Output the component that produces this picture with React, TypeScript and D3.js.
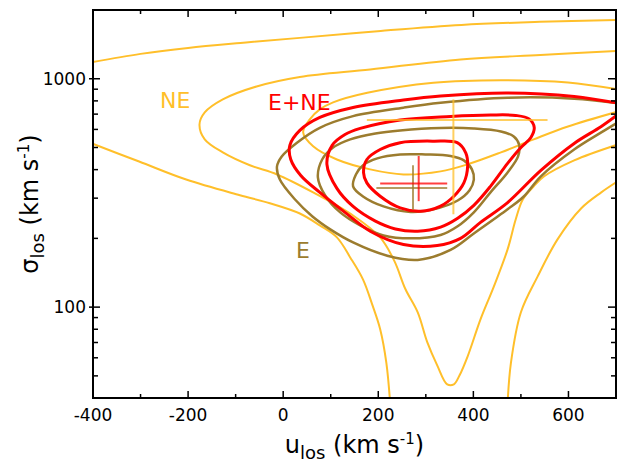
import React from 'react';
import * as d3 from 'd3';

type P = [number, number];

// ---- axes ----
const xTickValues = [-400, -200, 0, 200, 400, 600];
const xMinorTicks = [-300, -100, 100, 300, 500];
const yTickValues = [100, 1000];
const yMinorTicks = [50, 60, 70, 80, 90, 200, 300, 400, 500, 600, 700, 800, 900];

// ---- NE (orange) contours: [u_los, sigma_los] ----
const neOuterTop: P[] = [[-405, 1180], [-300, 1285], [-200, 1365], [-90, 1435], [35, 1510], [205, 1620], [375, 1720], [540, 1775], [705, 1810]];
const neOuterLeft: P[] = [[-405, 523], [-303, 434], [-204, 362], [-91, 309], [-28, 285], [35, 257], [77, 228], [113, 202], [141, 165], [168, 132], [187, 103], [204, 80], [217, 57], [225, 38]];
const neOuterRight: P[] = [[472, 38], [479, 57], [500, 95], [535, 136], [577, 198], [627, 271], [669, 318], [705, 357]];
const neMiddle: P[] = [[705, 1323], [541, 1271], [373, 1215], [183, 1098], [35, 1018], [-56, 925], [-127, 812], [-165, 712], [-176, 631], [-165, 543], [-127, 476], [-70, 418], [-13, 381], [63, 318], [147, 252], [204, 202], [234, 159], [257, 120], [283, 94.8], [303, 70.2], [324, 55.6], [345, 45.9], [359, 45.9], [371, 50.3], [388, 60.9], [415, 88.4], [443, 123], [472, 179], [489, 242], [504, 296], [527, 338], [549, 374], [612, 439], [705, 516]];
const neInner: P[] = [[705, 898], [599, 963], [458, 986], [316, 961], [177, 868], [105, 788], [77, 734], [56, 664], [42, 582], [63, 506], [113, 443], [183, 401], [253, 381], [331, 393], [388, 422], [458, 476], [527, 543], [599, 618], [705, 719]];

// ---- E+NE (red) contours ----
const eneOuter: P[] = [[707, 780], [612, 837], [472, 867], [331, 841], [253, 808], [147, 749], [77, 677], [35, 594], [14, 511], [16, 443], [37, 377], [77, 318], [130, 260], [183, 215], [253, 188], [324, 186], [373, 200], [415, 235], [472, 287], [542, 397], [612, 521], [669, 618], [707, 705]];
const eneMiddle: P[] = [[92, 422], [103, 511], [130, 570], [162, 606], [246, 660], [352, 684], [436, 694], [489, 691], [517, 667], [528, 612], [521, 553], [500, 500], [472, 426], [436, 338], [401, 279], [367, 245], [331, 224], [283, 215], [236, 220], [194, 238], [147, 276], [113, 331]];
const eneInner: P[] = [[169, 388], [176, 443], [204, 490], [246, 525], [317, 533], [366, 525], [384, 474], [388, 415], [380, 350], [359, 306], [331, 277], [289, 263], [246, 272], [204, 306], [176, 350]];

// ---- E (brown) contours ----
const eOuter: P[] = [[707, 780], [612, 818], [472, 826], [331, 785], [253, 747], [147, 686], [77, 610], [29, 525], [-3, 457], [-13, 413], [-7, 362], [25, 296], [61, 250], [99, 219], [147, 192], [219, 168], [283, 161], [352, 178], [401, 210], [472, 268], [506, 305], [542, 374], [612, 490], [669, 582], [707, 650]];
const eMiddle: P[] = [[73, 370], [82, 443], [105, 500], [141, 543], [194, 576], [246, 594], [331, 609], [401, 606], [458, 588], [485, 559], [496, 516], [494, 457], [472, 389], [436, 318], [401, 260], [367, 226], [331, 207], [268, 200], [211, 206], [162, 228], [120, 260], [88, 309]];
const eInner: P[] = [[147, 338], [153, 381], [168, 418], [198, 448], [246, 466], [299, 466], [352, 459], [380, 439], [397, 401], [401, 362], [392, 325], [367, 293], [316, 268], [268, 261], [211, 276], [168, 305]];

// ---- best-fit crosses: [u, sigma, uLo, uHi, sigmaLo, sigmaHi] ----
const crossNE = [358, 659, 176, 556, 255, 812];
const crossENE = [285, 348, 204, 345, 291, 459];
const crossE = [273, 332, 196, 345, 267, 418];

const ORANGE = '#FFBF2A';
const RED = '#FF0000';
const BROWN = '#9C7C2E';

const W = 627, H = 462;
const L = 93, R = 616, T = 10, B = 398;
const FONT = 'DejaVu Sans, sans-serif';

export default function App() {
  const x = d3.scaleLinear().domain([-400, 700]).range([L, R]);
  const y = d3.scaleLog().domain([40, 2000]).range([B, T]);
  const open = d3.line<P>().x(d => x(d[0])).y(d => y(d[1])).curve(d3.curveCatmullRom.alpha(0.5));
  const closed = d3.line<P>().x(d => x(d[0])).y(d => y(d[1])).curve(d3.curveCatmullRomClosed.alpha(0.5));

  const cross = (c: number[], color: string, key: string) => (
    <g key={key} stroke={color} strokeWidth={2} strokeOpacity={0.75}>
      <line x1={x(c[2])} x2={x(c[3])} y1={y(c[1])} y2={y(c[1])} />
      <line x1={x(c[0])} x2={x(c[0])} y1={y(c[4])} y2={y(c[5])} />
    </g>
  );

  return (
    <svg width={W} height={H} style={{ position: 'absolute', left: 0, top: 0, display: 'block', background: '#fff' }} fontFamily={FONT}>
      <defs>
        <clipPath id="plot"><rect x={L} y={T} width={R - L} height={B - T} /></clipPath>
      </defs>
      <g clipPath="url(#plot)" fill="none">
        <g stroke={ORANGE} strokeWidth={2}>
          <path d={open(neOuterTop) || ''} />
          <path d={open(neOuterLeft) || ''} />
          <path d={open(neOuterRight) || ''} />
          <path d={open(neMiddle) || ''} />
          <path d={open(neInner) || ''} />
        </g>
        <g stroke={BROWN} strokeWidth={2.5}>
          <path d={open(eOuter) || ''} />
          <path d={closed(eMiddle) || ''} />
          <path d={closed(eInner) || ''} />
        </g>
        <g stroke={RED} strokeWidth={3}>
          <path d={open(eneOuter) || ''} />
          <path d={closed(eneMiddle) || ''} />
          <path d={closed(eneInner) || ''} />
        </g>
        {cross(crossNE, ORANGE, 'ne')}
        {cross(crossE, BROWN, 'e')}
        {cross(crossENE, RED, 'ene')}
      </g>

      {/* frame */}
      <rect x={L} y={T} width={R - L} height={B - T} fill="none" stroke="#000" strokeWidth={2} />

      {/* ticks */}
      <g stroke="#000" strokeWidth={1.5}>
        {xTickValues.map(v => (
          <g key={'xt' + v}>
            <line x1={x(v)} x2={x(v)} y1={B} y2={B - 7} />
            <line x1={x(v)} x2={x(v)} y1={T} y2={T + 7} />
          </g>
        ))}
        {xMinorTicks.map(v => (
          <g key={'xm' + v}>
            <line x1={x(v)} x2={x(v)} y1={B} y2={B - 4} />
            <line x1={x(v)} x2={x(v)} y1={T} y2={T + 4} />
          </g>
        ))}
        {yTickValues.map(v => (
          <g key={'yt' + v}>
            <line x1={L - 4} x2={L + 7} y1={y(v)} y2={y(v)} />
            <line x1={R} x2={R - 8} y1={y(v)} y2={y(v)} />
          </g>
        ))}
        {yMinorTicks.map(v => (
          <g key={'ym' + v}>
            <line x1={L} x2={L + 5} y1={y(v)} y2={y(v)} />
            <line x1={R} x2={R - 5} y1={y(v)} y2={y(v)} />
          </g>
        ))}
      </g>

      {/* tick labels */}
      <g fontSize={17} fill="#000">
        {xTickValues.map(v => (
          <text key={'xl' + v} x={x(v)} y={B + 23} textAnchor="middle">{String(v)}</text>
        ))}
        {yTickValues.map(v => (
          <text key={'yl' + v} x={L - 7} y={y(v) + 6} textAnchor="end">{String(v)}</text>
        ))}
      </g>

      {/* axis titles */}
      <text x={(L + R) / 2} y={453} textAnchor="middle" fontSize={24} fill="#000">
        <tspan>u</tspan><tspan dy={6} fontSize={18}>los</tspan><tspan dy={-6}> (km s</tspan><tspan dy={-9} fontSize={15}>-1</tspan><tspan dy={9}>)</tspan>
      </text>
      <text transform={`translate(38,${(T + B) / 2}) rotate(-90)`} textAnchor="middle" fontSize={24} fill="#000">
        <tspan>σ</tspan><tspan dy={6} fontSize={18}>los</tspan><tspan dy={-6}> (km s</tspan><tspan dy={-9} fontSize={15}>-1</tspan><tspan dy={9}>)</tspan>
      </text>

      {/* contour labels */}
      <text x={160} y={108} fontSize={22} fill={ORANGE}>NE</text>
      <text x={268} y={110} fontSize={22} fill={RED}>E+NE</text>
      <text x={296} y={258} fontSize={22} fill={BROWN}>E</text>
    </svg>
  );
}
